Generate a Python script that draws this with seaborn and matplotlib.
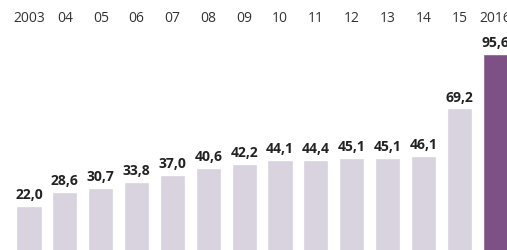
import matplotlib
matplotlib.use("Agg")
from matplotlib import pyplot as plt
import matplotlib.transforms as mtransforms
import pandas as pd
import seaborn as sns

sns.set_style("white")
plt.rcParams['font.family'] = ['Open Sans', 'DejaVu Sans']

years = ['2003', '04', '05', '06', '07', '08', '09', '10', '11', '12', '13', '14', '15', '2016']
values = [22.0, 28.6, 30.7, 33.8, 37.0, 40.6, 42.2, 44.1, 44.4, 45.1, 45.1, 46.1, 69.2, 95.6]
value_labels = ['22,0', '28,6', '30,7', '33,8', '37,0', '40,6', '42,2',
                '44,1', '44,4', '45,1', '45,1', '46,1', '69,2', '95,6']

light = '#d8d3df'
purple = '#7e5186'
colors = [light] * (len(years) - 1) + [purple]

df = pd.DataFrame({'year': years, 'value': values})

fig = plt.figure(figsize=(5.07, 2.51), dpi=100)
ax = fig.add_axes([0, 0, 1, 1])

sns.barplot(data=df, x='year', y='value', hue='year', palette=colors,
            legend=False, width=0.7, saturation=1, ax=ax)

ax.set_xlim(-0.81, 13.33)
ax.set_ylim(0.68, 122.2)
ax.axis('off')

# value labels above bars
for i, (v, lab) in enumerate(zip(values, value_labels)):
    ax.text(i, v + 2.4, lab, ha='center', va='bottom', fontsize=10,
            fontweight='bold', color='#222222')

# year labels along the top
trans = mtransforms.blended_transform_factory(ax.transData, ax.transAxes)
for i, y in enumerate(years):
    ax.text(i, 0.925, y, ha='center', va='center', fontsize=10,
            color='#333333', transform=trans)

plt.savefig('out.png', dpi=100)
plt.close()
